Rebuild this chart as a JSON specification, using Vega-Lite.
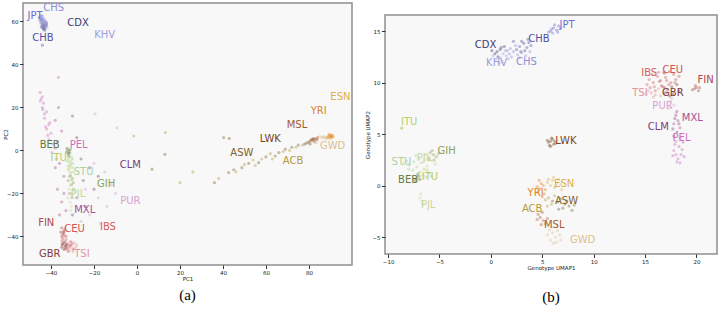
{
  "$schema": "https://vega.github.io/schema/vega-lite/v6.json",
  "padding": {"left": 2, "top": 2, "right": 0, "bottom": 0},
  "spacing": 11,
  "config": {
    "view": {"fill": "#f8f8f8", "stroke": "#8f8f8f", "strokeWidth": 1.5},
    "axis": {"grid": false, "domain": false, "tickColor": "#333", "tickSize": 3.5, "labelFontSize": 5.5, "labelFont": "DejaVu Sans", "labelColor": "#222", "titleFont": "DejaVu Sans", "titleFontSize": 5.5, "titleFontWeight": "normal", "titleColor": "#222", "labelPadding": 1.5, "titlePadding": 3},
    "title": {"font": "Liberation Serif", "fontSize": 15, "fontWeight": "normal", "color": "#000", "anchor": "middle", "frame": "group"}
  },
  "datasets": {
    "pca": [
      {"pop":"CHB","x":-44,"y":58},{"pop":"CHB","x":-43.5,"y":59},{"pop":"CHB","x":-44.5,"y":57.5},{"pop":"CHB","x":-43,"y":60},{"pop":"CHB","x":-44.2,"y":60.5},{"pop":"CHB","x":-43.8,"y":57},{"pop":"CHB","x":-44.6,"y":59.2},{"pop":"CHB","x":-43.2,"y":58.2},{"pop":"CHB","x":-44,"y":49},
      {"pop":"JPT","x":-44.5,"y":61},{"pop":"JPT","x":-45,"y":62},{"pop":"JPT","x":-44,"y":62.5},{"pop":"JPT","x":-45.2,"y":60.5},{"pop":"JPT","x":-43.8,"y":61.5},{"pop":"JPT","x":-44.8,"y":63},{"pop":"JPT","x":-45.5,"y":61.8},
      {"pop":"CHS","x":-43.5,"y":58.5},{"pop":"CHS","x":-42.5,"y":59.5},{"pop":"CHS","x":-43,"y":61},{"pop":"CHS","x":-44,"y":59},{"pop":"CHS","x":-42.8,"y":57.8},{"pop":"CHS","x":-43.6,"y":60.2},
      {"pop":"CDX","x":-43,"y":57},{"pop":"CDX","x":-42.3,"y":58},{"pop":"CDX","x":-43.5,"y":56.5},{"pop":"CDX","x":-42,"y":59},{"pop":"CDX","x":-42.8,"y":56},
      {"pop":"KHV","x":-42.5,"y":57.5},{"pop":"KHV","x":-42,"y":58.5},{"pop":"KHV","x":-43.2,"y":56},{"pop":"KHV","x":-42.2,"y":60},{"pop":"KHV","x":-41.8,"y":57.2},
      {"pop":"PEL","x":-45,"y":27},{"pop":"PEL","x":-44,"y":25},{"pop":"PEL","x":-43.5,"y":22},{"pop":"PEL","x":-44,"y":20},{"pop":"PEL","x":-42,"y":18},{"pop":"PEL","x":-43,"y":15},{"pop":"PEL","x":-41,"y":12},{"pop":"PEL","x":-42,"y":10},{"pop":"PEL","x":-40,"y":8},{"pop":"PEL","x":-41,"y":5},{"pop":"PEL","x":-39,"y":3},{"pop":"PEL","x":-38,"y":1},{"pop":"PEL","x":-40.5,"y":13},{"pop":"PEL","x":-43,"y":17},{"pop":"PEL","x":-36.5,"y":34},{"pop":"PEL","x":-44.5,"y":24},{"pop":"PEL","x":-42.5,"y":11},{"pop":"PEL","x":-45,"y":23},{"pop":"PEL","x":-43.8,"y":19},{"pop":"PEL","x":-41.5,"y":7},{"pop":"PEL","x":-39.5,"y":-1},{"pop":"PEL","x":-37.5,"y":-4},
      {"pop":"MXL","x":-36.5,"y":20},{"pop":"MXL","x":-38,"y":14},{"pop":"MXL","x":-35,"y":9},{"pop":"MXL","x":-37,"y":4},{"pop":"MXL","x":-36,"y":-6},{"pop":"MXL","x":-34,"y":-12},{"pop":"MXL","x":-37,"y":-18},{"pop":"MXL","x":-35,"y":-24},{"pop":"MXL","x":-33,"y":-28},{"pop":"MXL","x":-36,"y":-30},{"pop":"MXL","x":-34,"y":-20},{"pop":"MXL","x":-38,"y":-8},
      {"pop":"CLM","x":-30,"y":16},{"pop":"CLM","x":-28,"y":6},{"pop":"CLM","x":-26,"y":-4},{"pop":"CLM","x":-22,"y":-8},{"pop":"CLM","x":-25,"y":-14},{"pop":"CLM","x":-20,"y":-18},{"pop":"CLM","x":-28,"y":-22},{"pop":"CLM","x":-24,"y":-26},{"pop":"CLM","x":-18,"y":-12},{"pop":"CLM","x":-30,"y":-30},
      {"pop":"PUR","x":-19.5,"y":17},{"pop":"PUR","x":-9.3,"y":10.5},{"pop":"PUR","x":-20,"y":-6},{"pop":"PUR","x":-15,"y":-10},{"pop":"PUR","x":-12,"y":-16},{"pop":"PUR","x":-18,"y":-22},{"pop":"PUR","x":-14,"y":-26},{"pop":"PUR","x":-22,"y":-30},{"pop":"PUR","x":-26,"y":-33},{"pop":"PUR","x":-17,"y":-34},{"pop":"PUR","x":-10,"y":-20},{"pop":"PUR","x":-24,"y":-18},{"pop":"PUR","x":-28,"y":-38},
      {"pop":"BEB","x":-32.5,"y":1},{"pop":"BEB","x":-31.5,"y":-0.5},{"pop":"BEB","x":-32,"y":-1.5},{"pop":"BEB","x":-31,"y":0.5},{"pop":"BEB","x":-32.8,"y":-0.8},{"pop":"BEB","x":-31.8,"y":-2.5},{"pop":"BEB","x":-32.2,"y":0.2},{"pop":"BEB","x":-31.3,"y":-1.2},
      {"pop":"ITU","x":-32,"y":-4},{"pop":"ITU","x":-31,"y":-6},{"pop":"ITU","x":-31.5,"y":-8},{"pop":"ITU","x":-32.5,"y":-5},{"pop":"ITU","x":-30.5,"y":-3},{"pop":"ITU","x":-31,"y":-10},{"pop":"ITU","x":-32,"y":-9},{"pop":"ITU","x":-30.8,"y":-7},
      {"pop":"STU","x":-31,"y":-5},{"pop":"STU","x":-30,"y":-8},{"pop":"STU","x":-31.5,"y":-12},{"pop":"STU","x":-30.5,"y":-14},{"pop":"STU","x":-32,"y":-7},{"pop":"STU","x":-29.5,"y":-10},{"pop":"STU","x":-30.8,"y":-11},{"pop":"STU","x":-30,"y":-4},{"pop":"STU","x":-31.5,"y":-3},{"pop":"STU","x":-29.8,"y":-6},
      {"pop":"GIH","x":-31,"y":-12},{"pop":"GIH","x":-30.5,"y":-16},{"pop":"GIH","x":-32,"y":-14},{"pop":"GIH","x":-29.5,"y":-18},{"pop":"GIH","x":-31,"y":-20},{"pop":"GIH","x":-30,"y":-13},{"pop":"GIH","x":-30.2,"y":-22},{"pop":"GIH","x":-29.6,"y":-15},
      {"pop":"PJL","x":-31.5,"y":-18},{"pop":"PJL","x":-30,"y":-21},{"pop":"PJL","x":-31,"y":-24},{"pop":"PJL","x":-32,"y":-22},{"pop":"PJL","x":-30.5,"y":-26},{"pop":"PJL","x":-29,"y":-19},{"pop":"PJL","x":-31,"y":-16},{"pop":"PJL","x":-30.8,"y":-28},{"pop":"PJL","x":-31.8,"y":-20},
      {"pop":"FIN","x":-35,"y":-36},{"pop":"FIN","x":-34,"y":-37.5},{"pop":"FIN","x":-35.5,"y":-38},{"pop":"FIN","x":-34.5,"y":-39},{"pop":"FIN","x":-33.5,"y":-36.5},{"pop":"FIN","x":-35,"y":-40},{"pop":"FIN","x":-34.2,"y":-38.2},
      {"pop":"CEU","x":-34,"y":-38},{"pop":"CEU","x":-33,"y":-40},{"pop":"CEU","x":-34.5,"y":-41},{"pop":"CEU","x":-33.5,"y":-42.5},{"pop":"CEU","x":-33.8,"y":-39.5},{"pop":"CEU","x":-34.8,"y":-42},{"pop":"CEU","x":-33,"y":-41.5},
      {"pop":"GBR","x":-34,"y":-43},{"pop":"GBR","x":-33,"y":-44.5},{"pop":"GBR","x":-35,"y":-45},{"pop":"GBR","x":-32.5,"y":-43.5},{"pop":"GBR","x":-34,"y":-46},{"pop":"GBR","x":-33.5,"y":-45.2},{"pop":"GBR","x":-34.6,"y":-44},{"pop":"GBR","x":-33.2,"y":-44},{"pop":"GBR","x":-34.8,"y":-43.4},
      {"pop":"TSI","x":-31,"y":-44},{"pop":"TSI","x":-30,"y":-45.5},{"pop":"TSI","x":-29,"y":-43},{"pop":"TSI","x":-31.5,"y":-46.5},{"pop":"TSI","x":-28.5,"y":-45},{"pop":"TSI","x":-30.5,"y":-42.5},{"pop":"TSI","x":-28,"y":-44},{"pop":"TSI","x":-29.8,"y":-47},
      {"pop":"IBS","x":-32,"y":-44},{"pop":"IBS","x":-31,"y":-42.5},{"pop":"IBS","x":-33,"y":-46},{"pop":"IBS","x":-30,"y":-43.5},{"pop":"IBS","x":-32,"y":-47},{"pop":"IBS","x":-31.5,"y":-45},{"pop":"IBS","x":-30.8,"y":-44.2},{"pop":"IBS","x":-29.5,"y":-46},{"pop":"IBS","x":-32.4,"y":-45.6},
      {"pop":"YRI","x":89,"y":6.5},{"pop":"YRI","x":90,"y":7},{"pop":"YRI","x":90.5,"y":6},{"pop":"YRI","x":89.5,"y":7.5},{"pop":"YRI","x":91,"y":6.8},{"pop":"YRI","x":88.8,"y":5.8},{"pop":"YRI","x":90.2,"y":6.3},{"pop":"YRI","x":89.8,"y":6.9},{"pop":"YRI","x":90.6,"y":6.6},
      {"pop":"ESN","x":89.3,"y":6.8},{"pop":"ESN","x":90.8,"y":7.2},{"pop":"ESN","x":88.5,"y":6.2},{"pop":"ESN","x":91.3,"y":6.2},{"pop":"ESN","x":89.8,"y":5.5},
      {"pop":"GWD","x":86,"y":6},{"pop":"GWD","x":87,"y":6.5},{"pop":"GWD","x":84,"y":5},{"pop":"GWD","x":85,"y":6.5},{"pop":"GWD","x":87.5,"y":5.5},{"pop":"GWD","x":82,"y":4.5},{"pop":"GWD","x":83.5,"y":3.5},{"pop":"GWD","x":86.5,"y":6.2},{"pop":"GWD","x":88,"y":6},
      {"pop":"MSL","x":82,"y":5},{"pop":"MSL","x":83,"y":5.5},{"pop":"MSL","x":81,"y":4.5},{"pop":"MSL","x":84,"y":6},{"pop":"MSL","x":82.5,"y":4},{"pop":"MSL","x":83.5,"y":5},
      {"pop":"LWK","x":80,"y":4},{"pop":"LWK","x":81,"y":5},{"pop":"LWK","x":79,"y":3.5},{"pop":"LWK","x":82,"y":5.5},{"pop":"LWK","x":80.5,"y":3},{"pop":"LWK","x":78,"y":3},
      {"pop":"ASW","x":36,"y":-15},{"pop":"ASW","x":42.6,"y":-10.3},{"pop":"ASW","x":48.8,"y":-8},{"pop":"ASW","x":56.6,"y":-5.7},{"pop":"ASW","x":64.3,"y":-2.6},{"pop":"ASW","x":69,"y":0.6},{"pop":"ASW","x":60,"y":-3},{"pop":"ASW","x":52,"y":-6},{"pop":"ASW","x":72,"y":1.5},{"pop":"ASW","x":75,"y":2.5},{"pop":"ASW","x":45,"y":-9},{"pop":"ASW","x":66,"y":-1},{"pop":"ASW","x":7,"y":-8.7},{"pop":"ASW","x":13,"y":-1.8},{"pop":"ASW","x":40.3,"y":6},{"pop":"ASW","x":42.9,"y":5.6},
      {"pop":"ACB","x":38,"y":-13},{"pop":"ACB","x":46,"y":-10},{"pop":"ACB","x":50,"y":-6.5},{"pop":"ACB","x":54,"y":-4.5},{"pop":"ACB","x":58,"y":-4},{"pop":"ACB","x":62,"y":-1.5},{"pop":"ACB","x":68,"y":-0.5},{"pop":"ACB","x":71,"y":0},{"pop":"ACB","x":74,"y":1.5},{"pop":"ACB","x":77,"y":2.5},{"pop":"ACB","x":55,"y":-7},{"pop":"ACB","x":63,"y":-4},{"pop":"ACB","x":-1.5,"y":6.7},{"pop":"ACB","x":13.2,"y":8.3},{"pop":"ACB","x":20,"y":-15},{"pop":"ACB","x":26,"y":-10}
    ],
    "pcaLabels": [
      {"pop":"JPT","x":-47.4,"y":62.6},{"pop":"CHS","x":-38.7,"y":66.1},{"pop":"CDX","x":-27.4,"y":59.4},{"pop":"CHB","x":-43.7,"y":52.5},{"pop":"KHV","x":-15,"y":53.7},
      {"pop":"ESN","x":94.6,"y":25},{"pop":"YRI","x":84.5,"y":18.4},{"pop":"MSL","x":74.4,"y":11.7},{"pop":"LWK","x":62,"y":5.2},{"pop":"GWD","x":91,"y":2.1},
      {"pop":"BEB","x":-40.6,"y":2.4},{"pop":"PEL","x":-27.1,"y":2.6},{"pop":"ITU","x":-36.4,"y":-3.6},{"pop":"ASW","x":48.8,"y":-1.0},{"pop":"ACB","x":72.6,"y":-4.9},
      {"pop":"CLM","x":-3.1,"y":-6.9},{"pop":"STU","x":-24.8,"y":-9.8},{"pop":"GIH","x":-14.3,"y":-15.7},{"pop":"PJL","x":-27.4,"y":-20.4},{"pop":"PUR","x":-3.1,"y":-23.5},
      {"pop":"MXL","x":-24.3,"y":-27.8},{"pop":"FIN","x":-42.2,"y":-33.6},{"pop":"IBS","x":-13.5,"y":-35.4},{"pop":"CEU","x":-29,"y":-36.7},{"pop":"GBR","x":-40.6,"y":-48},{"pop":"TSI","x":-25.6,"y":-48}
    ],
    "umap": [
      {"pop":"JPT","x":5.8,"y":15},{"pop":"JPT","x":6.1,"y":15.3},{"pop":"JPT","x":6.4,"y":15.1},{"pop":"JPT","x":6.0,"y":14.8},{"pop":"JPT","x":6.6,"y":15.5},{"pop":"JPT","x":6.2,"y":15.6},{"pop":"JPT","x":5.9,"y":15.2},{"pop":"JPT","x":6.5,"y":14.9},{"pop":"JPT","x":5.6,"y":14.9},{"pop":"JPT","x":6.8,"y":15.3},
      {"pop":"CHB","x":2.8,"y":13.5},{"pop":"CHB","x":3.2,"y":13.8},{"pop":"CHB","x":3.5,"y":13.4},{"pop":"CHB","x":2.5,"y":13.2},{"pop":"CHB","x":3.0,"y":14},{"pop":"CHB","x":3.7,"y":13.9},{"pop":"CHB","x":3.3,"y":13.1},{"pop":"CHB","x":2.2,"y":14.0},{"pop":"CHB","x":3.9,"y":13.6},{"pop":"CHB","x":2.9,"y":13.0},{"pop":"CHB","x":3.6,"y":14.2},
      {"pop":"CHS","x":2.2,"y":13},{"pop":"CHS","x":2.6,"y":12.7},{"pop":"CHS","x":3.0,"y":12.9},{"pop":"CHS","x":1.9,"y":13.3},{"pop":"CHS","x":2.4,"y":13.6},{"pop":"CHS","x":3.4,"y":12.6},{"pop":"CHS","x":1.8,"y":12.8},{"pop":"CHS","x":2.0,"y":12.5},{"pop":"CHS","x":2.8,"y":12.4},{"pop":"CHS","x":3.8,"y":13.0},{"pop":"CHS","x":1.6,"y":13.1},
      {"pop":"CDX","x":0.6,"y":13},{"pop":"CDX","x":0.9,"y":13.2},{"pop":"CDX","x":0.4,"y":12.8},{"pop":"CDX","x":0.7,"y":12.5},{"pop":"CDX","x":1.0,"y":13.4},{"pop":"CDX","x":0.1,"y":13.1},{"pop":"CDX","x":1.3,"y":13.5},
      {"pop":"KHV","x":1.2,"y":12.8},{"pop":"KHV","x":0.9,"y":12.4},{"pop":"KHV","x":1.4,"y":13.1},{"pop":"KHV","x":0.5,"y":12.3},{"pop":"KHV","x":1.1,"y":12.0},{"pop":"KHV","x":1.5,"y":12.6},{"pop":"KHV","x":0.2,"y":12.6},{"pop":"KHV","x":1.7,"y":12.3},{"pop":"KHV","x":0.8,"y":11.9},
      {"pop":"CEU","x":17,"y":10.5},{"pop":"CEU","x":17.5,"y":10},{"pop":"CEU","x":16.8,"y":11},{"pop":"CEU","x":17.8,"y":10.8},{"pop":"CEU","x":17.3,"y":9.8},{"pop":"CEU","x":16.5,"y":10.2},{"pop":"CEU","x":18,"y":10.3},{"pop":"CEU","x":16.9,"y":10.9},{"pop":"CEU","x":17.4,"y":11.1},{"pop":"CEU","x":17.9,"y":10},{"pop":"CEU","x":18.3,"y":10.6},{"pop":"CEU","x":16.7,"y":9.6},{"pop":"CEU","x":17.1,"y":10.2},
      {"pop":"IBS","x":15.8,"y":10},{"pop":"IBS","x":16.2,"y":10.6},{"pop":"IBS","x":15.5,"y":9.5},{"pop":"IBS","x":16.0,"y":9.2},{"pop":"IBS","x":16.6,"y":9.7},{"pop":"IBS","x":15.4,"y":10.3},{"pop":"IBS","x":15.2,"y":9.8},{"pop":"IBS","x":15.7,"y":10.8},{"pop":"IBS","x":16.4,"y":10.1},{"pop":"IBS","x":15.9,"y":9.6},{"pop":"IBS","x":16.3,"y":11},
      {"pop":"TSI","x":15.6,"y":9},{"pop":"TSI","x":16,"y":8.8},{"pop":"TSI","x":16.3,"y":9.4},{"pop":"TSI","x":15.3,"y":9.2},{"pop":"TSI","x":16.8,"y":9},{"pop":"TSI","x":15.1,"y":8.9},{"pop":"TSI","x":15.8,"y":8.6},{"pop":"TSI","x":16.5,"y":8.7},
      {"pop":"GBR","x":17.2,"y":9.3},{"pop":"GBR","x":17.6,"y":9.6},{"pop":"GBR","x":17,"y":9},{"pop":"GBR","x":18.1,"y":9.8},{"pop":"GBR","x":17.7,"y":8.9},{"pop":"GBR","x":17.4,"y":8.7},{"pop":"GBR","x":18.3,"y":9.2},{"pop":"GBR","x":16.9,"y":9.5},
      {"pop":"FIN","x":19.8,"y":9.4},{"pop":"FIN","x":20,"y":9.5},{"pop":"FIN","x":19.6,"y":9.3},{"pop":"FIN","x":20.2,"y":9.2},{"pop":"FIN","x":19.9,"y":9.7},{"pop":"FIN","x":20.3,"y":9.5},
      {"pop":"PUR","x":17.5,"y":8.2},{"pop":"PUR","x":17.8,"y":7.8},{"pop":"PUR","x":17.3,"y":7.5},{"pop":"PUR","x":18,"y":7},{"pop":"PUR","x":17.6,"y":8.5},
      {"pop":"MXL","x":18,"y":6.8},{"pop":"MXL","x":18.2,"y":6.3},{"pop":"MXL","x":17.8,"y":6},{"pop":"MXL","x":18.4,"y":5.6},{"pop":"MXL","x":18.1,"y":7.2},
      {"pop":"CLM","x":17.9,"y":6.5},{"pop":"CLM","x":17.7,"y":5.5},{"pop":"CLM","x":18.1,"y":5.2},{"pop":"CLM","x":17.8,"y":4.8},{"pop":"CLM","x":18.3,"y":6},
      {"pop":"PEL","x":18,"y":4.3},{"pop":"PEL","x":18.3,"y":3.8},{"pop":"PEL","x":17.8,"y":3.4},{"pop":"PEL","x":18.5,"y":3},{"pop":"PEL","x":18.2,"y":2.6},{"pop":"PEL","x":18,"y":3},{"pop":"PEL","x":18.4,"y":4.6},{"pop":"PEL","x":17.9,"y":4},{"pop":"PEL","x":18.6,"y":3.5},{"pop":"PEL","x":18.7,"y":4.2},{"pop":"PEL","x":17.7,"y":2.9},{"pop":"PEL","x":18.8,"y":2.8},{"pop":"PEL","x":18.1,"y":2.3},{"pop":"PEL","x":18.4,"y":2.2},
      {"pop":"LWK","x":5.8,"y":4.3},{"pop":"LWK","x":6.0,"y":4.5},{"pop":"LWK","x":5.6,"y":4.2},{"pop":"LWK","x":6.1,"y":4.0},{"pop":"LWK","x":5.9,"y":4.6},{"pop":"LWK","x":5.7,"y":3.9},{"pop":"LWK","x":6.2,"y":4.3},{"pop":"LWK","x":5.5,"y":4.4},{"pop":"LWK","x":6.3,"y":4.1},{"pop":"LWK","x":5.8,"y":3.8},
      {"pop":"ITU","x":-8.7,"y":5.57},{"pop":"ITU","x":-8.65,"y":5.6},
      {"pop":"STU","x":-7.5,"y":2.3},{"pop":"STU","x":-7.9,"y":2.0},{"pop":"STU","x":-7.2,"y":1.8},{"pop":"STU","x":-8.2,"y":2.4},{"pop":"STU","x":-7.6,"y":1.5},{"pop":"STU","x":-7,"y":2.6},{"pop":"STU","x":-8.5,"y":2.1},{"pop":"STU","x":-8.0,"y":1.6},{"pop":"STU","x":-7.3,"y":2.9},
      {"pop":"PJL","x":-6.5,"y":2.5},{"pop":"PJL","x":-6.0,"y":2.8},{"pop":"PJL","x":-6.8,"y":2.2},{"pop":"PJL","x":-5.7,"y":2.4},{"pop":"PJL","x":-6.2,"y":1.9},{"pop":"PJL","x":-5.4,"y":2.1},{"pop":"PJL","x":-6.4,"y":3.0},{"pop":"PJL","x":-6.9,"y":-1.2},{"pop":"PJL","x":-6.7,"y":-1.5},{"pop":"PJL","x":-6.8,"y":-0.8},{"pop":"PJL","x":-6.6,"y":-1.8},
      {"pop":"GIH","x":-5.6,"y":3},{"pop":"GIH","x":-5.3,"y":2.8},{"pop":"GIH","x":-5.9,"y":3.2},{"pop":"GIH","x":-5.5,"y":2.5},{"pop":"GIH","x":-6.0,"y":2.6},{"pop":"GIH","x":-5.1,"y":3.1},{"pop":"GIH","x":-5.7,"y":3.4},
      {"pop":"ITU","x":-6.6,"y":1.0},{"pop":"ITU","x":-6.3,"y":0.8},{"pop":"ITU","x":-6.9,"y":1.3},{"pop":"ITU","x":-6.0,"y":1.2},{"pop":"ITU","x":-6.5,"y":1.6},{"pop":"ITU","x":-6.2,"y":1.5},{"pop":"ITU","x":-5.8,"y":0.9},
      {"pop":"BEB","x":-7.2,"y":0.7},{"pop":"BEB","x":-7.0,"y":0.9},{"pop":"BEB","x":-7.4,"y":0.5},{"pop":"BEB","x":-6.9,"y":0.6},{"pop":"BEB","x":-7.1,"y":1.1},
      {"pop":"ESN","x":6,"y":0.5},{"pop":"ESN","x":6.4,"y":0.2},{"pop":"ESN","x":5.8,"y":0},{"pop":"ESN","x":6.6,"y":0.6},{"pop":"ESN","x":6.2,"y":-0.2},{"pop":"ESN","x":5.5,"y":0.3},{"pop":"ESN","x":6.8,"y":0.1},{"pop":"ESN","x":6.1,"y":0.8},{"pop":"ESN","x":5.6,"y":0.6},{"pop":"ESN","x":6.9,"y":-0.4},
      {"pop":"YRI","x":4.8,"y":-0.3},{"pop":"YRI","x":5.1,"y":0},{"pop":"YRI","x":4.6,"y":-0.6},{"pop":"YRI","x":5.2,"y":-0.8},{"pop":"YRI","x":4.9,"y":0.2},{"pop":"YRI","x":5.3,"y":-0.4},{"pop":"YRI","x":4.5,"y":-0.1},{"pop":"YRI","x":5.0,"y":-1.1},{"pop":"YRI","x":4.7,"y":0.5},
      {"pop":"ASW","x":6.5,"y":-1.6},{"pop":"ASW","x":7.2,"y":-1.8},{"pop":"ASW","x":6.8,"y":-1.3},{"pop":"ASW","x":7.6,"y":-2},{"pop":"ASW","x":6,"y":-1.5},{"pop":"ASW","x":7,"y":-2.2},{"pop":"ASW","x":7.9,"y":-2.4},{"pop":"ASW","x":8.1,"y":-1.9},{"pop":"ASW","x":6.6,"y":-2.3},{"pop":"ASW","x":7.4,"y":-1.5},
      {"pop":"ACB","x":5.6,"y":-1.2},{"pop":"ACB","x":5.9,"y":-1.8},{"pop":"ACB","x":5.3,"y":-1.4},{"pop":"ACB","x":6.2,"y":-1},{"pop":"ACB","x":5.5,"y":-2},
      {"pop":"MSL","x":4.8,"y":-3.1},{"pop":"MSL","x":5.1,"y":-3.4},{"pop":"MSL","x":4.6,"y":-2.8},{"pop":"MSL","x":5.3,"y":-3.7},{"pop":"MSL","x":5,"y":-2.6},{"pop":"MSL","x":4.5,"y":-3.3},{"pop":"MSL","x":5.5,"y":-3.2},{"pop":"MSL","x":4.9,"y":-3.8},
      {"pop":"GWD","x":6,"y":-4.6},{"pop":"GWD","x":6.3,"y":-5},{"pop":"GWD","x":5.8,"y":-5.3},{"pop":"GWD","x":6.5,"y":-4.4},{"pop":"GWD","x":6.1,"y":-5.6},{"pop":"GWD","x":5.7,"y":-4.3},{"pop":"GWD","x":5.5,"y":-4.8},{"pop":"GWD","x":6.7,"y":-4.8},{"pop":"GWD","x":6.4,"y":-5.5},{"pop":"GWD","x":5.9,"y":-4.0},{"pop":"GWD","x":6.8,"y":-5.3}
    ],
    "umapLabels": [
      {"pop":"JPT","x":7.42,"y":15.56},{"pop":"CHB","x":4.67,"y":14.26},{"pop":"CDX","x":-0.52,"y":13.6},{"pop":"KHV","x":0.55,"y":11.9},{"pop":"CHS","x":3.47,"y":12.0},
      {"pop":"IBS","x":15.4,"y":10.9},{"pop":"CEU","x":17.7,"y":11.25},{"pop":"FIN","x":20.9,"y":10.2},{"pop":"TSI","x":14.5,"y":9.0},{"pop":"GBR","x":17.7,"y":9.0},
      {"pop":"PUR","x":16.7,"y":7.7},{"pop":"MXL","x":19.6,"y":6.6},{"pop":"CLM","x":16.3,"y":5.67},{"pop":"PEL","x":18.55,"y":4.6},{"pop":"ITU","x":-7.95,"y":6.16},
      {"pop":"LWK","x":7.3,"y":4.3},{"pop":"GIH","x":-4.3,"y":3.4},{"pop":"STU","x":-8.7,"y":2.27},{"pop":"PJL","x":-6.5,"y":2.66},{"pop":"BEB","x":-8.05,"y":0.55},
      {"pop":"ITU","x":-5.93,"y":0.87},{"pop":"PJL","x":-6.1,"y":-1.85},{"pop":"ESN","x":7.13,"y":0.16},{"pop":"YRI","x":4.35,"y":-0.72},{"pop":"ASW","x":7.36,"y":-1.46},
      {"pop":"ACB","x":4.02,"y":-2.27},{"pop":"MSL","x":6.16,"y":-3.8},{"pop":"GWD","x":8.92,"y":-5.3}
    ]
  },
  "hconcat": [
    {
      "width": 329,
      "height": 262,
      "title": {"text": "(a)", "orient": "bottom", "offset": 6},
      "layer": [
        {
          "data": {"name": "pca"},
          "mark": {"type": "circle", "size": 10, "opacity": 0.4},
          "encoding": {
            "x": {"field": "x", "type": "quantitative", "scale": {"domain": [-53, 100], "nice": false, "zero": false}, "axis": {"values": [-40, -20, 0, 20, 40, 60, 80], "title": "PC1", "minExtent": 8, "maxExtent": 8}},
            "y": {"field": "y", "type": "quantitative", "scale": {"domain": [-53.3, 68.6], "nice": false, "zero": false}, "axis": {"values": [-40, -20, 0, 20, 40, 60], "title": "PC2", "minExtent": 12, "maxExtent": 12}},
            "color": {"field": "pop", "type": "nominal", "legend": null, "scale": {"domain": ["CHB","JPT","CHS","CDX","KHV","BEB","GIH","ITU","STU","PJL","ACB","ASW","ESN","GWD","LWK","MSL","YRI","CEU","FIN","GBR","IBS","TSI","CLM","MXL","PEL","PUR"], "range": ["#4e52a6","#6b6ecf","#8d8fcc","#393b79","#9c9ede","#637939","#8ca252","#b5cf6b","#a8d39c","#c9d79a","#b59a3a","#7d6227","#e0ae4a","#dcc090","#74451f","#a8582a","#e0851a","#d05555","#ad494a","#843c39","#d45e5e","#e39599","#7b4173","#a55194","#ce6dbd","#d9a0d2"]}}
          }
        },
        {
          "data": {"name": "pcaLabels"},
          "mark": {"type": "text", "font": "DejaVu Sans", "fontSize": 10, "align": "center", "baseline": "middle"},
          "encoding": {
            "x": {"field": "x", "type": "quantitative"},
            "y": {"field": "y", "type": "quantitative"},
            "text": {"field": "pop"},
            "color": {"field": "pop", "type": "nominal", "legend": null}
          }
        }
      ]
    },
    {
      "spacing": 0,
      "vconcat": [
        {
          "width": 1,
          "height": 11,
          "view": {"fill": null, "stroke": null},
          "data": {"values": []},
          "mark": {"type": "point"},
          "encoding": {}
        },
        {
          "width": 332,
          "height": 239,
          "title": {"text": "(b)", "orient": "bottom", "offset": 19},
          "layer": [
            {
              "data": {"name": "umap"},
              "mark": {"type": "circle", "size": 10, "opacity": 0.4},
              "encoding": {
                "x": {"field": "x", "type": "quantitative", "scale": {"domain": [-10.3, 22], "nice": false, "zero": false}, "axis": {"values": [-10, -5, 0, 5, 10, 15, 20], "title": "Genotype UMAP1", "minExtent": 8, "maxExtent": 8}},
                "y": {"field": "y", "type": "quantitative", "scale": {"domain": [-6.65, 16.56], "nice": false, "zero": false}, "axis": {"values": [-5, 0, 5, 10, 15], "title": "Genotype UMAP2", "minExtent": 12, "maxExtent": 12}},
                "color": {"field": "pop", "type": "nominal", "legend": null}
              }
            },
            {
              "data": {"name": "umapLabels"},
              "mark": {"type": "text", "font": "DejaVu Sans", "fontSize": 10, "align": "center", "baseline": "middle"},
              "encoding": {
                "x": {"field": "x", "type": "quantitative"},
                "y": {"field": "y", "type": "quantitative"},
                "text": {"field": "pop"},
                "color": {"field": "pop", "type": "nominal", "legend": null}
              }
            }
          ]
        }
      ]
    }
  ]
}
